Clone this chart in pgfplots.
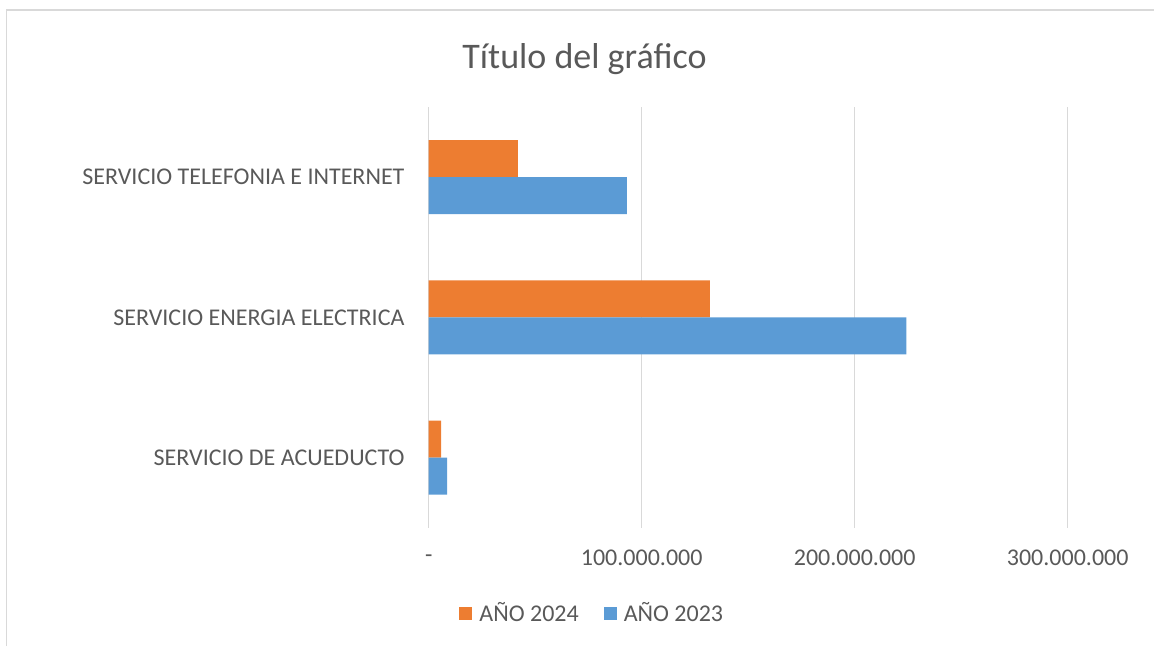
\documentclass[border=0pt]{standalone}
\usepackage{pgfplots}
\pgfplotsset{compat=1.18}
\usepackage{fontspec}
\setmainfont{Carlito}
\definecolor{orange24}{HTML}{ED7D31}
\definecolor{blue23}{HTML}{5B9BD5}
\definecolor{txt}{HTML}{595959}
\definecolor{gridc}{HTML}{D9D9D9}
\begin{document}
\begin{tikzpicture}[x=1pt,y=1pt]
\path[use as bounding box] (0,0) rectangle (1154,646);
\draw[gridc, line width=1.3pt] (6.7,0) -- (6.7,636) -- (1154,636);
\node[text=txt, font=\fontsize{36}{40}\selectfont, anchor=base, inner sep=0pt] at (584.5,577) {Título del gráfico};
\begin{axis}[
  at={(428.7pt,118.3pt)}, anchor=south west,
  scale only axis, width=639pt, height=420.7pt,
  xbar, bar width=37pt,
  xmin=0, xmax=300000000,
  ymin=-0.5, ymax=2.5,
  ytick={0,1,2},
  yticklabels={SERVICIO DE ACUEDUCTO, SERVICIO ENERGIA ELECTRICA, SERVICIO TELEFONIA E INTERNET},
  xtick={0,100000000,200000000,300000000},
  xticklabels={{-\hspace{10pt}},100.000.000,200.000.000,300.000.000},
  scaled x ticks=false,
  axis line style={draw=none},
  major tick length=0pt,
  tick style={draw=none},
  xmajorgrids,
  grid style={gridc, line width=1.3pt},
  xticklabel style={font=\fontsize{24}{28}\selectfont, text=txt, anchor=center, yshift=-30.6pt},
  yticklabel style={font=\fontsize{24}{28}\selectfont, text=txt, anchor=east, inner sep=0pt, xshift=-24pt},
  legend style={at={(0.2560,-0.2028)}, anchor=center, draw=none, fill=none,
    font=\fontsize{24}{28}\selectfont, text=txt,
    /tikz/every even column/.append style={column sep=23pt}},
  legend columns=2,
  legend image code/.code={\path[#1] (0pt,-6.5pt) rectangle (13pt,6.5pt); \path (18pt,0pt);},
]
\addplot[fill=orange24, draw=none, bar shift=18.5pt] coordinates {(5800000,0) (132000000,1) (41900000,2)};
\addlegendentry{AÑO 2024}
\addplot[fill=blue23, draw=none, bar shift=-18.5pt] coordinates {(8700000,0) (224300000,1) (93000000,2)};
\addlegendentry{AÑO 2023}
\end{axis}
\end{tikzpicture}
\end{document}
